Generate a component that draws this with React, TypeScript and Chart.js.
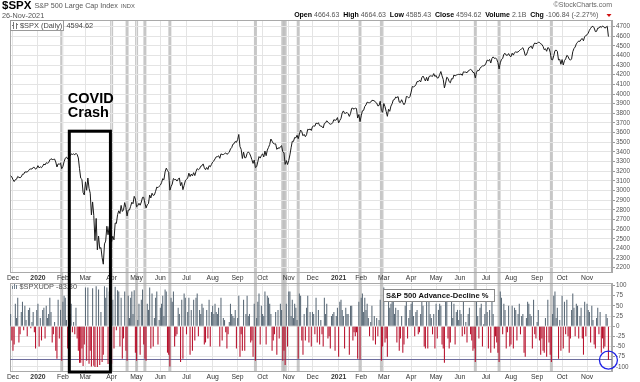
import React, { useEffect, useRef } from "react";
import { Chart, registerables } from "chart.js";

Chart.register(...registerables);

const FONT = '"Liberation Sans", Arial, Helvetica, sans-serif';

// ---------- data ----------
// trading-day index of the first session of each month (index 0 = 27-Nov-2019)
const MONTH_TICKS = [2, 23, 44, 63, 85, 106, 126, 148, 170, 191, 212, 234, 254, 276, 295, 314, 337, 358, 378, 400, 421, 443, 464, 485];
const MONTH_LABELS = ["Dec", "2020", "Feb", "Mar", "Apr", "May", "Jun", "Jul", "Aug", "Sep", "Oct", "Nov", "Dec", "2021", "Feb", "Mar", "Apr", "May", "Jun", "Jul", "Aug", "Sep", "Oct", "Nov"];
const YEAR_LABELS = ["2020", "2021"];
const PRICE_TICKS = [2200, 2300, 2400, 2500, 2600, 2700, 2800, 2900, 3000, 3100, 3200, 3300, 3400, 3500, 3600, 3700, 3800, 3900, 4000, 4100, 4200, 4300, 4400, 4500, 4600, 4700];
const AD_TICKS = [100, 75, 50, 25, 0, -25, -50, -75, -100];

// $SPX daily close, 27-Nov-2019 .. 26-Nov-2021
const SPX_CLOSE = [
  3154, 3141,
  3114, 3093, 3113, 3117, 3146, 3136, 3133, 3142, 3169, 3169, 3192, 3193, 3191, 3205, 3221, 3224, 3223, 3240, 3240, 3221, 3231,
  3258, 3235, 3246, 3237, 3253, 3275, 3265, 3288, 3283, 3289, 3317, 3330, 3321, 3322, 3326, 3296, 3244, 3276, 3273, 3284, 3226,
  3249, 3298, 3335, 3346, 3328, 3352, 3358, 3380, 3374, 3380, 3370, 3386, 3373, 3338, 3226, 3128, 3116, 2979, 2954,
  3090, 3003, 3130, 3024, 2972, 2747, 2882, 2741, 2481, 2711, 2386, 2529, 2398, 2409, 2305, 2237, 2447, 2476, 2630, 2542, 2627, 2585,
  2471, 2527, 2489, 2664, 2659, 2750, 2790, 2762, 2846, 2783, 2800, 2875, 2823, 2737, 2799, 2798, 2837, 2879, 2863, 2940, 2912,
  2831, 2843, 2868, 2848, 2881, 2930, 2930, 2870, 2820, 2853, 2864, 2954, 2923, 2972, 2949, 2955, 2992, 3036, 3030, 3044,
  3056, 3081, 3123, 3112, 3194, 3232, 3207, 3190, 3002, 3041, 3067, 3125, 3114, 3115, 3098, 3118, 3131, 3050, 3084, 3009, 3053, 3100,
  3116, 3130, 3180, 3145, 3170, 3152, 3185, 3155, 3198, 3227, 3216, 3225, 3252, 3257, 3276, 3236, 3216, 3239, 3218, 3258, 3246, 3271,
  3295, 3307, 3328, 3349, 3351, 3360, 3334, 3380, 3373, 3373, 3382, 3390, 3375, 3385, 3397, 3431, 3444, 3479, 3485, 3508, 3500,
  3527, 3581, 3455, 3427, 3332, 3399, 3339, 3341, 3384, 3401, 3386, 3357, 3320, 3281, 3316, 3237, 3247, 3298, 3352, 3336, 3363,
  3381, 3348, 3409, 3361, 3419, 3447, 3477, 3534, 3512, 3489, 3483, 3484, 3427, 3443, 3436, 3454, 3465, 3401, 3391, 3271, 3310, 3270,
  3310, 3369, 3443, 3510, 3509, 3550, 3546, 3573, 3537, 3585, 3627, 3610, 3568, 3582, 3558, 3578, 3635, 3630, 3638, 3622,
  3663, 3669, 3667, 3699, 3692, 3702, 3673, 3668, 3664, 3648, 3695, 3701, 3723, 3709, 3695, 3687, 3690, 3703, 3735, 3727, 3732, 3756,
  3701, 3727, 3748, 3804, 3825, 3800, 3801, 3810, 3796, 3768, 3799, 3852, 3853, 3842, 3855, 3850, 3751, 3787, 3714,
  3774, 3826, 3830, 3872, 3887, 3916, 3911, 3910, 3916, 3935, 3933, 3931, 3914, 3907, 3877, 3881, 3925, 3829, 3811,
  3902, 3870, 3820, 3769, 3842, 3821, 3875, 3899, 3939, 3943, 3969, 3963, 3974, 3916, 3913, 3941, 3911, 3889, 3910, 3975, 3971, 3959, 3973,
  4020, 4078, 4074, 4080, 4097, 4129, 4128, 4142, 4125, 4170, 4186, 4163, 4135, 4173, 4135, 4180, 4188, 4187, 4183, 4212, 4181,
  4193, 4165, 4168, 4202, 4233, 4188, 4152, 4063, 4113, 4174, 4163, 4128, 4116, 4159, 4156, 4197, 4188, 4196, 4201, 4204,
  4202, 4208, 4193, 4230, 4227, 4227, 4220, 4239, 4247, 4255, 4247, 4224, 4222, 4167, 4225, 4246, 4242, 4267, 4281, 4291, 4292, 4298,
  4320, 4352, 4344, 4358, 4321, 4370, 4385, 4369, 4374, 4360, 4327, 4259, 4323, 4359, 4368, 4412, 4422, 4402, 4401, 4419, 4395,
  4387, 4423, 4403, 4429, 4437, 4432, 4437, 4448, 4461, 4468, 4480, 4448, 4400, 4406, 4442, 4480, 4486, 4496, 4470, 4509, 4529, 4523,
  4524, 4537, 4535, 4520, 4514, 4493, 4459, 4469, 4443, 4481, 4474, 4433, 4358, 4354, 4396, 4449, 4456, 4443, 4353, 4360, 4308,
  4357, 4301, 4346, 4364, 4400, 4391, 4361, 4351, 4364, 4438, 4471, 4487, 4520, 4536, 4550, 4545, 4567, 4575, 4552, 4596, 4605,
  4614, 4631, 4661, 4680, 4698, 4702, 4685, 4647, 4649, 4683, 4683, 4701, 4689, 4705, 4698, 4683, 4691, 4702, 4595,
];

// $SPXUDP: S&P 500 advance-decline %, same days
const SPX_UDP = [
  30, -35,
  -60, -45, 55, 20, 70, -40, -20, 35, 60, -10, 50, 15, -25, 40, 45, -5, 10, 35, -15, -55, 40,
  55, -50, 20, -35, 40, 45, -30, 50, 20, 30, 70, 35, -40, -20, 10, -60, -80, 65, -30, 40, -85,
  60, 75, 70, 15, -55, 45, 30, 55, -15, 10, -20, 45, -30, -60, -90, -90, -55, -98, -45,
  95, -85, 95, -92, -60, -99, 93, -97, -100, 98, -100, 90, -95, 35, -88, -70, 98, 70, 95, -93, 85, -70,
  -92, 65, -55, 97, -10, 88, 85, -50, 70, -80, -30, 85, -60, -85, 75, 20, 70, 85, 30, 88, -65,
  -85, 15, 55, -70, 65, 90, -45, -80, -85, 55, 40, 95, -55, 80, -50, 20, 70, 85, -45, 15,
  45, 55, 75, 25, 90, 85, -65, -70, -99, 70, 60, 85, -50, -25, -20, 45, 30, -88, 65, -80, 80, 70,
  -20, 35, 70, -70, 40, -60, 65, -35, 70, 80, -25, 40, 30, 55, 45, -45, -40, 40, -30, 65, -50, 35,
  50, 30, 55, 35, 30, 45, -50, 70, -35, 20, 15, -15, -55, -20, 10, 55, 30, 25, 20, 40, -55,
  20, 75, -75, -20, -60, 65, -60, 30, 75, 25, 30, -40, -35, -75, 55, -85, 20, 60, 80, -45, 50,
  30, 25, 85, -45, 75, 70, 55, 30, -60, -35, -20, 35, -70, 40, -30, 55, 40, -85, -60, -95, 55, -50,
  85, 85, 25, 65, 20, 55, 45, 15, -80, 80, 75, -35, -70, 30, -35, 45, 75, -40, 35, -50,
  35, 30, -20, 70, -40, 40, -45, 15, -20, -50, 70, 30, 55, -30, -25, -55, 25, 30, 35, -60, 25, 45,
  -75, 60, 65, 40, 25, -55, 45, 30, 30, -70, 50, 50, -35, -15, -25, -15, -80, 60, -82,
  70, 80, 35, 70, 40, 55, 20, -25, 10, 50, -35, 25, -45, 20, -25, 15, 65, -85, -50,
  95, -40, -30, -75, 75, 45, 55, 65, 60, 30, 45, -40, 40, -60, -30, 25, -65, -45, 50, 85, -30, 20, 40,
  55, 60, 25, -25, 35, 40, -20, -15, 30, 60, 50, -50, -55, 75, -55, 60, 30, 20, -20, 30, -55,
  55, -30, 40, 55, 50, -45, -55, -90, 70, 80, -30, -55, -40, 65, 20, 55, -45, 35, 40, 15,
  40, 30, -25, 60, -20, 10, -40, 30, 45, -20, -35, -60, -55, -88, 85, 25, -30, 45, 55, -50, 5, 30,
  60, 35, -55, 40, -65, 80, 30, -55, -25, -40, -65, -88, 85, 70, -20, 55, 40, -55, -15, 50, -50,
  -45, 50, -55, 45, 40, -35, 30, 55, -20, 25, 30, -65, -75, 20, 60, 55, 30, 25, -55, 65, -20, -30,
  10, 40, -35, -70, -30, -60, -65, 20, -75, 65, -40, -70, -88, 30, 75, 85, 20, 45, -80, 15, -60,
  75, -55, 60, -20, 65, -25, -65, -30, 40, 80, 45, -25, 55, 50, -30, 25, 45, -30, -70, 60, -25,
  55, 40, 35, -40, 50, 15, -45, -55, 20, 45, -20, 35, -65, -30, -55, -50, 30, 20, -83.3,
];

// highlighted heavy-selloff sessions (indices)
const SELLOFF_DAYS = [43, 85, 98, 106, 113, 134, 206, 229, 231, 242, 294, 312, 391, 411, 455];
const AD_THRESHOLD = -80;
// COVID crash annotation: from/to session index, top price level
const COVID_FROM = 49.4;
const COVID_TO = 84;
const COVID_TOP = 3615;

// ---------- layout ----------
const W = 640;
const H = 382;
const PLOT_LEFT = 10;
const AXIS_W = 28;
const PRICE_TOP = 20;
const PRICE_BOTTOM = 272;
const AD_TOP = 283;
const AD_BOTTOM = 371;
const X_MIN = -0.5;
const X_MAX = 506;
const PRICE_MIN = 2156;
const PRICE_MAX = 4767;
const AD_MIN = -110;
const AD_MAX = 106;
const GRID = "#e4e4e4";
const FRAME = "#a9a9a9";

function xScaleOptions(axisH: number) {
  return {
    type: "linear" as const,
    min: X_MIN,
    max: X_MAX,
    offset: false,
    afterBuildTicks: (s: any) => {
      s.ticks = MONTH_TICKS.map((v) => ({ value: v }));
    },
    afterFit: (s: any) => {
      s.height = axisH;
      s.paddingLeft = 0;
      s.paddingRight = 0;
    },
    grid: { color: GRID, drawTicks: false, offset: false, lineWidth: 1 },
    border: { color: FRAME },
    ticks: {
      autoSkip: false,
      maxRotation: 0,
      minRotation: 0,
      padding: 2,
      color: "#333",
      font: (c: any) => ({
        family: FONT,
        size: 6.8,
        weight: YEAR_LABELS.includes(MONTH_LABELS[c.index]) ? "bold" : "normal",
      }),
      callback: (_v: any, i: number) => MONTH_LABELS[i],
    },
  };
}

function yScaleOptions(min: number, max: number, ticks: number[]) {
  return {
    type: "linear" as const,
    position: "right" as const,
    min,
    max,
    afterBuildTicks: (s: any) => {
      s.ticks = ticks.map((v) => ({ value: v }));
    },
    afterFit: (s: any) => {
      s.width = AXIS_W;
      s.paddingTop = 0;
      s.paddingBottom = 0;
    },
    grid: { color: GRID, tickColor: "#999", tickLength: 3, lineWidth: 1 },
    border: { color: FRAME },
    ticks: {
      autoSkip: false,
      padding: 1,
      color: "#555",
      font: { family: FONT, size: 6.3 },
      callback: (v: any) => String(v),
    },
  };
}

const framePlugin = {
  id: "frame",
  beforeDatasetsDraw(chart: any) {
    const { ctx, chartArea: a } = chart;
    ctx.save();
    ctx.strokeStyle = FRAME;
    ctx.lineWidth = 1;
    ctx.strokeRect(Math.round(a.left) + 0.5, Math.round(a.top) + 0.5, Math.round(a.right - a.left) - 1, Math.round(a.bottom - a.top));
    ctx.restore();
  },
};

function drawRuns(ctx: CanvasRenderingContext2D, runs: { t: string; b?: boolean; c?: string }[], xRight: number, y: number, size: number) {
  let total = 0;
  const widths = runs.map((r) => {
    ctx.font = `${r.b ? "bold " : ""}${size}px ${FONT}`;
    const w = ctx.measureText(r.t).width;
    total += w;
    return w;
  });
  let x = xRight - total;
  runs.forEach((r, i) => {
    ctx.font = `${r.b ? "bold " : ""}${size}px ${FONT}`;
    ctx.fillStyle = r.c || (r.b ? "#000" : "#555");
    ctx.fillText(r.t, x, y);
    x += widths[i];
  });
  return xRight - total;
}

export default function App() {
  const priceRef = useRef<HTMLCanvasElement>(null);
  const adRef = useRef<HTMLCanvasElement>(null);

  useEffect(() => {
    Chart.defaults.font.family = FONT;

    // ---- lower panel: advance-decline % ----
    const adPlugin = {
      id: "adDecor",
      beforeDatasetsDraw(chart: any) {
        const { ctx, chartArea: a, scales } = chart;
        ctx.save();
        ctx.fillStyle = "rgba(165,165,165,0.62)";
        for (const d of SELLOFF_DAYS) {
          const px = scales.x.getPixelForValue(d);
          ctx.fillRect(px - 1.5, PRICE_TOP, 3, a.bottom - PRICE_TOP);
        }
        const ty = Math.round(scales.y.getPixelForValue(AD_THRESHOLD)) + 0.5;
        ctx.strokeStyle = "#6e6e9e";
        ctx.lineWidth = 1;
        ctx.beginPath();
        ctx.moveTo(a.left, ty);
        ctx.lineTo(a.right, ty);
        ctx.stroke();
        ctx.restore();
      },
      afterDraw(chart: any) {
        const { ctx, scales } = chart;
        ctx.save();
        // legend at top-left
        ctx.fillStyle = "#6f7f8c";
        ctx.fillRect(12, 286, 1, 3);
        ctx.fillRect(14, 284, 1, 5);
        ctx.fillRect(16, 285, 1, 4);
        ctx.textBaseline = "middle";
        ctx.font = `7.4px ${FONT}`;
        ctx.fillStyle = "#555";
        ctx.fillText("$SPXUDP -83.30", 19.5, 287);
        // indicator title box
        ctx.fillStyle = "#fff";
        ctx.fillRect(383.5, 289.5, 111, 12);
        ctx.strokeStyle = "#8a8a8a";
        ctx.lineWidth = 1;
        ctx.strokeRect(383.5, 289.5, 111, 12);
        ctx.fillStyle = "#111";
        ctx.font = `bold 7.6px ${FONT}`;
        ctx.fillText("S&P 500 Advance-Decline %", 386, 296);
        // blue circle on the last session
        const last = SPX_UDP.length - 1;
        const cx = scales.x.getPixelForValue(last);
        const cy = scales.y.getPixelForValue(SPX_UDP[last]);
        ctx.strokeStyle = "#1e22e6";
        ctx.lineWidth = 1.3;
        ctx.beginPath();
        ctx.arc(cx, cy, 9, 0, Math.PI * 2);
        ctx.stroke();
        ctx.restore();
      },
    };

    const adChart = new Chart(adRef.current!, {
      type: "bar",
      data: {
        datasets: [
          {
            data: SPX_UDP.map((v, i) => ({ x: i, y: v })),
            backgroundColor: SPX_UDP.map((v) => (v >= 0 ? "#5d6c79" : "#b8132e")),
            borderWidth: 0,
            barPercentage: 0.9,
            categoryPercentage: 1,
            grouped: false,
          } as any,
        ],
      },
      options: {
        responsive: false,
        animation: false,
        devicePixelRatio: 1,
        events: [],
        layout: { padding: { left: PLOT_LEFT, right: 0, top: AD_TOP, bottom: H - AD_BOTTOM - 11 } },
        plugins: { legend: { display: false }, tooltip: { enabled: false } },
        scales: {
          x: xScaleOptions(11) as any,
          y: yScaleOptions(AD_MIN, AD_MAX, AD_TICKS) as any,
        },
      },
      plugins: [framePlugin, adPlugin],
    });

    // ---- upper panel: price ----
    const pricePlugin = {
      id: "priceDecor",
      afterDraw(chart: any) {
        const { ctx, scales } = chart;
        ctx.save();
        ctx.textBaseline = "middle";
        // header
        ctx.fillStyle = "#000";
        ctx.font = `bold 11.5px ${FONT}`;
        ctx.fillText("$SPX", 2, 6);
        let x = 2 + ctx.measureText("$SPX").width + 3;
        ctx.fillStyle = "#555";
        ctx.font = `7.2px ${FONT}`;
        ctx.fillText("S&P 500 Large Cap Index", x, 6.5);
        x += ctx.measureText("S&P 500 Large Cap Index").width + 3;
        ctx.font = `5.8px ${FONT}`;
        ctx.fillText("INDX", x, 6.5);
        ctx.font = `7.3px ${FONT}`;
        ctx.fillText("26-Nov-2021", 2, 15.5);
        ctx.textAlign = "right";
        ctx.font = `7px ${FONT}`;
        ctx.fillStyle = "#666";
        ctx.fillText("\u00A9StockCharts.com", 612, 5.5);
        ctx.textAlign = "left";
        drawRuns(
          ctx,
          [
            { t: "Open", b: true }, { t: " 4664.63  " },
            { t: "High", b: true }, { t: " 4664.63  " },
            { t: "Low", b: true }, { t: " 4585.43  " },
            { t: "Close", b: true }, { t: " 4594.62  " },
            { t: "Volume", b: true }, { t: " 2.1B  " },
            { t: "Chg", b: true }, { t: " -106.84 (-2.27%)     " },
          ],
          608,
          15.5,
          7
        );
        ctx.fillStyle = "#d01010";
        ctx.beginPath();
        ctx.moveTo(606.5, 14);
        ctx.lineTo(611.5, 14);
        ctx.lineTo(609, 17);
        ctx.closePath();
        ctx.fill();
        // price legend box
        ctx.fillStyle = "#fff";
        ctx.fillRect(10.5, 20.5, 53, 10);
        ctx.strokeStyle = "#999";
        ctx.lineWidth = 1;
        ctx.strokeRect(10.5, 20.5, 53, 10);
        ctx.strokeStyle = "#777";
        ctx.beginPath();
        ctx.moveTo(13.5, 22); ctx.lineTo(13.5, 29);
        ctx.moveTo(12, 25.5); ctx.lineTo(13.5, 25.5);
        ctx.moveTo(16.5, 23); ctx.lineTo(16.5, 29);
        ctx.moveTo(16.5, 24.5); ctx.lineTo(18, 24.5);
        ctx.stroke();
        ctx.fillStyle = "#444";
        ctx.font = `7.4px ${FONT}`;
        ctx.fillText("$SPX (Daily)", 20, 25.8);
        ctx.fillText("4594.62", 66.5, 25.8);
        // COVID crash box
        const bx1 = scales.x.getPixelForValue(COVID_FROM);
        const bx2 = scales.x.getPixelForValue(COVID_TO);
        const by1 = scales.y.getPixelForValue(COVID_TOP);
        const by2 = AD_BOTTOM + 1;
        ctx.strokeStyle = "#000";
        ctx.lineWidth = 3;
        ctx.strokeRect(bx1, by1, bx2 - bx1, by2 - by1);
        ctx.fillStyle = "#000";
        ctx.textBaseline = "alphabetic";
        ctx.font = `bold 14.5px ${FONT}`;
        ctx.fillText("COVID", bx1 - 1.5, by1 - 28.5);
        ctx.fillText("Crash", bx1 - 1.5, by1 - 14);
        ctx.restore();
      },
    };

    const priceChart = new Chart(priceRef.current!, {
      type: "line",
      data: {
        datasets: [
          {
            data: SPX_CLOSE.map((v, i) => ({ x: i, y: v })),
            borderColor: "#1a1a1a",
            borderWidth: 1,
            pointRadius: 0,
            tension: 0,
            fill: false,
          },
        ],
      },
      options: {
        responsive: false,
        animation: false,
        devicePixelRatio: 1,
        events: [],
        layout: { padding: { left: PLOT_LEFT, right: 0, top: PRICE_TOP, bottom: H - PRICE_BOTTOM - 12 } },
        plugins: { legend: { display: false }, tooltip: { enabled: false } },
        scales: {
          x: xScaleOptions(12) as any,
          y: yScaleOptions(PRICE_MIN, PRICE_MAX, PRICE_TICKS) as any,
        },
      },
      plugins: [framePlugin, pricePlugin],
    });

    return () => {
      priceChart.destroy();
      adChart.destroy();
    };
  }, []);

  return (
    <div style={{ position: "fixed", left: 0, top: 0, width: W, height: H, background: "#fff", overflow: "hidden" }}>
      <canvas ref={adRef} width={W} height={H} style={{ position: "absolute", left: 0, top: 0, zIndex: 1, width: W, height: H }} />
      <canvas ref={priceRef} width={W} height={H} style={{ position: "absolute", left: 0, top: 0, zIndex: 2, width: W, height: H }} />
    </div>
  );
}
